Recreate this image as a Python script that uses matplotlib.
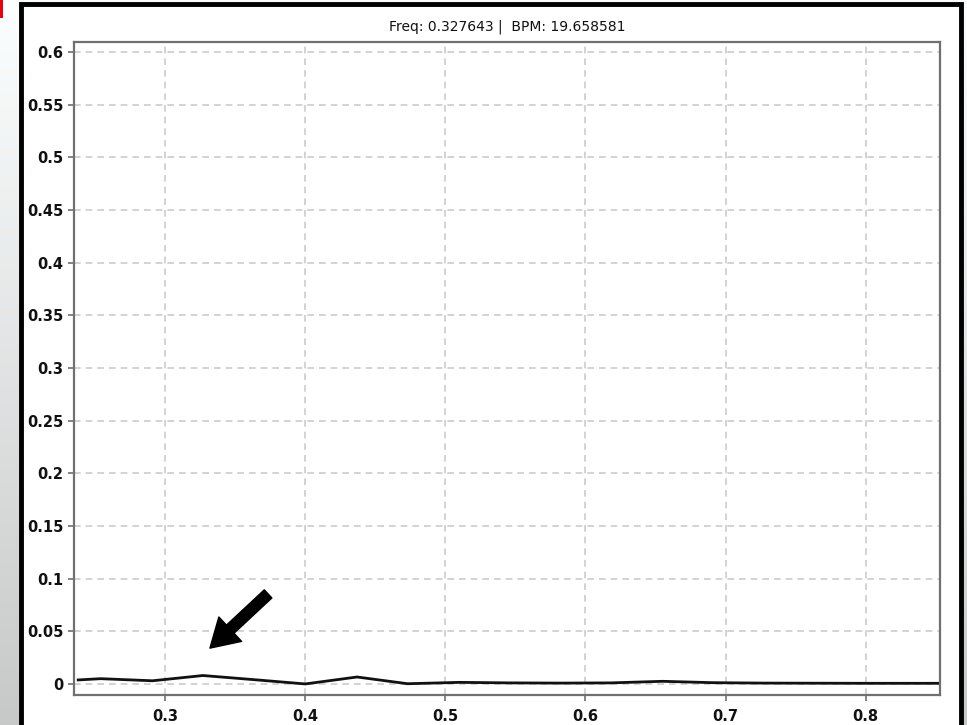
import numpy as np
import matplotlib.pyplot as plt
from matplotlib.patches import Rectangle

# Spectrum values
freq = [0.238, 0.254, 0.291, 0.327, 0.364, 0.400, 0.437, 0.473, 0.510,
        0.546, 0.582, 0.618, 0.655, 0.691, 0.728, 0.764, 0.800, 0.837, 0.853]
power = [0.0038, 0.0050, 0.0030, 0.0080, 0.0040, 0.0000, 0.0066, 0.0002, 0.0015,
         0.0010, 0.0008, 0.0010, 0.0025, 0.0012, 0.0008, 0.0007, 0.0006, 0.0006, 0.0006]

x_ticks = [0.3, 0.4, 0.5, 0.6, 0.7, 0.8]
y_ticks = [0, 0.05, 0.1, 0.15, 0.2, 0.25, 0.3, 0.35, 0.4, 0.45, 0.5, 0.55, 0.6]
y_labels = ['0', '0.05', '0.1', '0.15', '0.2', '0.25', '0.3', '0.35',
            '0.4', '0.45', '0.5', '0.55', '0.6']
title_txt = "Freq: 0.327643 |  BPM: 19.658581"

W, H = 967, 725
fig = plt.figure(figsize=(W / 100, H / 100), dpi=100)
fig.patch.set_facecolor('#f2f3f3')

# background: grey gradient strip on the left + white framed panel
bg = fig.add_axes([0, 0, 1, 1], zorder=-10)
grad = np.linspace(0.99, 0.78, 256).reshape(-1, 1)
bg.imshow(np.dstack([grad, grad * 1.01, grad * 1.01]).clip(0, 1),
          aspect='auto', extent=[0, 1, 0, 1])
bg.set_xlim(0, 1)
bg.set_ylim(0, 1)
bg.axis('off')
bg.add_patch(Rectangle((21 / W, -0.05), (961 - 21) / W, 1.05 - 4 / H,
                       facecolor='white', edgecolor='black', linewidth=3.5))
bg.add_patch(Rectangle((0, 1 - 18 / H), 3 / W, 18 / H, facecolor='#e8000b',
                       edgecolor='none'))

ax = fig.add_axes([74 / W, 1 - 695 / H, (940 - 74) / W, (695 - 42) / H])
ax.set_facecolor('white')
ax.plot(freq, power, color='#111111', linewidth=2.0)

ax.set_xlim(0.235, 0.853)
ax.set_ylim(-0.0105, 0.6095)
ax.set_xticks(x_ticks)
ax.set_xticklabels([str(t) for t in x_ticks])
ax.set_yticks(y_ticks)
ax.set_yticklabels(y_labels)
ax.grid(True, color='#cccccc', linestyle=(0, (4, 3)), linewidth=1.2)
for s in ax.spines.values():
    s.set_color('#707070')
    s.set_linewidth(1.6)
ax.tick_params(colors='#707070', length=4, width=1.2, labelcolor='#111111',
               labelsize=10.5)
for lab in ax.get_xticklabels() + ax.get_yticklabels():
    lab.set_fontweight('bold')
ax.tick_params(axis='x', pad=6)

ax.set_title(title_txt, fontsize=10, color='#111111', pad=8)

# arrow pointing at the peak
ax.annotate('', xy=(0.332, 0.034), xytext=(0.3735, 0.0855),
            arrowprops=dict(facecolor='black', edgecolor='black',
                            width=8, headwidth=24, headlength=20))

fig.savefig('out.png', dpi=100)
